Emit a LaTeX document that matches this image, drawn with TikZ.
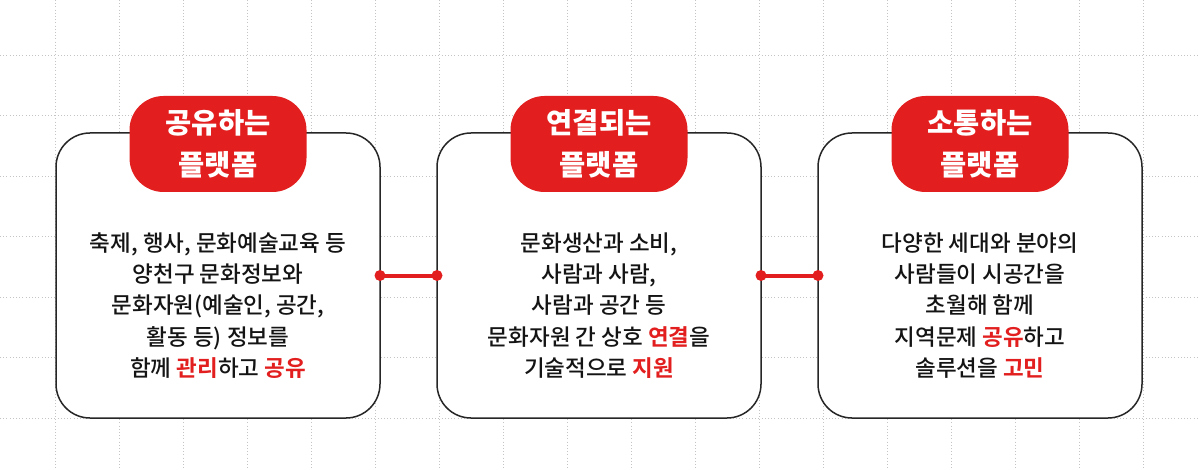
\documentclass[tikz,border=0pt]{standalone}
\usepackage{fontspec}
\setmainfont{Noto Sans CJK KR Medium}[BoldFont={Noto Sans CJK KR Bold}]
\newfontfamily\heavyfont{Noto Sans CJK KR Black}
\usepackage{tikz}
\usetikzlibrary{arrows.meta}
\usepackage{xcolor}
\definecolor{brandred}{HTML}{E21E1E}
\definecolor{gridgray}{HTML}{C4C4C4}
\newcommand{\redword}[1]{{\bfseries\color{brandred}#1}}

\begin{document}
\begin{tikzpicture}[x=1pt, y=-1pt, node distance=381pt,
  gridline/.style={gridgray, line width=0.9pt, dash pattern=on 0.9pt off 2.3pt},
  card/.style={draw=black!85, line width=1.5pt, fill=white, rounded corners=34pt, minimum width=324pt, minimum height=285pt, outer sep=0pt},
  badge/.style={fill=brandred, text=white, rounded corners=34pt, minimum width=177pt, minimum height=96pt, align=center, font=\fontsize{28.5pt}{42pt}\heavyfont, node distance=131.5pt},
  body/.style={align=center, text=black!92, font=\fontsize{22.5pt}{31.2pt}\selectfont, node distance=30pt},
  link/.style={brandred, line width=4pt},
  dot/.style={fill=brandred}]
\useasboundingbox (0,0) rectangle (1198,470);
\fill[white] (0,0) rectangle (1198,470);
% dotted grid
\foreach \gx in {0,...,17} \draw[gridline] (55+64*\gx,0) -- (55+64*\gx,470);
\foreach \gy in {0,...,6} \draw[gridline] (0,55+60.5*\gy) -- (1198,55+60.5*\gy);

% cards
\node[card] (share) at (218,275.5) {};
\node[card, right of=share] (connect) {};
\node[card, right of=connect] (talk) {};

% titles
\node[badge, above of=share] (shareT) {공유하는\\플랫폼};
\node[badge, above of=connect] (connectT) {연결되는\\플랫폼};
\node[badge, above of=talk] (talkT) {소통하는\\플랫폼};

% texts
\node[body, below of=share] (shareB) {축제, 행사, 문화예술교육 등\\양천구 문화정보와\\문화자원(예술인, 공간,\\활동 등) 정보를\\함께 \redword{관리}하고 \redword{공유}};
\node[body, below of=connect] (connectB) {문화생산과 소비,\\사람과 사람,\\사람과 공간 등\\문화자원 간 상호 \redword{연결}을\\기술적으로 \redword{지원}};
\node[body, below of=talk] (talkB) {다양한 세대와 분야의\\사람들이 시공간을\\초월해 함께\\지역문제 \redword{공유}하고\\솔루션을 \redword{고민}};

% links
\draw[link] (share.east) -- (connect.west);
\draw[link] (connect.east) -- (talk.west);
\foreach \n in {share.east, connect.west, connect.east, talk.west}
  \fill[dot] (\n) circle[radius=5.5pt];
\end{tikzpicture}
\end{document}
